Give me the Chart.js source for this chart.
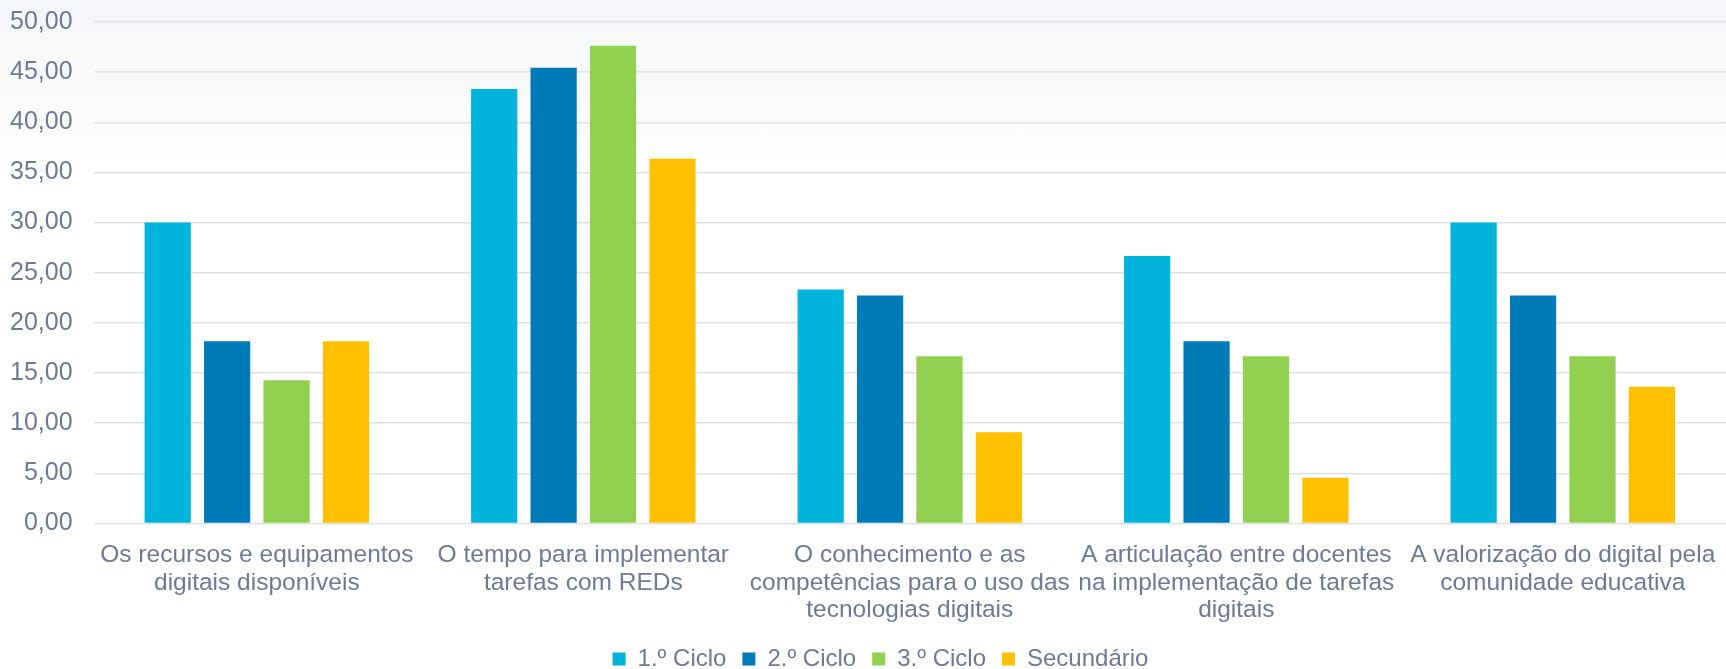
<!DOCTYPE html>
<html>
<head>
<meta charset="utf-8">
<script src="https://cdn.jsdelivr.net/npm/chart.js@4/dist/chart.umd.min.js"></script>
<style>
  html, body { margin: 0; padding: 0; }
  body { width: 1726px; height: 669px; overflow: hidden;
         background: linear-gradient(to bottom, #f5f6f9 0px, #f8f9fa 80px, #ffffff 170px, #ffffff 669px); }
  #wrap { position: relative; width: 1726px; height: 669px; }
</style>
</head>
<body>
<div id="wrap"><canvas id="c" width="1726" height="669"></canvas></div>
<script>
const categories = [
  ["Os recursos e equipamentos", "digitais disponíveis"],
  ["O tempo para implementar", "tarefas com REDs"],
  ["O conhecimento e as", "competências para o uso das", "tecnologias digitais"],
  ["A articulação entre docentes", "na implementação de tarefas", "digitais"],
  ["A valorização do digital pela", "comunidade educativa"]
];
const seriesNames = ["1.º Ciclo", "2.º Ciclo", "3.º Ciclo", "Secundário"];
const ciclo1 = [30.00, 43.33, 23.33, 26.67, 30.00];
const ciclo2 = [18.18, 45.45, 22.73, 18.18, 22.73];
const ciclo3 = [14.29, 47.62, 16.67, 16.67, 16.67];
const secundario = [18.18, 36.36, 9.09, 4.55, 13.64];
const yMin = 0, yMax = 50, yStep = 5;

const colors = ["#00b4dc", "#007bb8", "#92d050", "#ffc000"];
const textColor = "#6f7994";
const FONT = "'Liberation Sans', Arial, Helvetica, sans-serif";

const allSeries = [ciclo1, ciclo2, ciclo3, secundario];

// nudges the centred legend slightly right, as in the reference
const legendShift = {
  id: 'legendShift',
  afterLayout(chart) {
    if (chart.legend) { chart.legend.left += 17.5; chart.legend.right += 17.5; }
  }
};

new Chart(document.getElementById('c'), {
  type: 'bar',
  data: {
    labels: categories,
    datasets: allSeries.map((d, i) => ({
      label: seriesNames[i],
      data: d,
      backgroundColor: colors[i],
      borderWidth: 0,
      categoryPercentage: 0.728,
      barPercentage: 0.778
    }))
  },
  plugins: [legendShift],
  options: {
    responsive: false,
    animation: false,
    devicePixelRatio: 1,
    layout: { padding: { left: 0, right: 0, top: 22, bottom: -12 } },
    plugins: {
      tooltip: { enabled: false },
      legend: {
        position: 'bottom',
        labels: {
          color: textColor,
          font: { family: FONT, size: 24 },
          boxWidth: 13,
          boxHeight: 13,
          padding: 16
        }
      }
    },
    scales: {
      x: {
        grid: { display: false, drawTicks: false },
        border: { display: false },
        ticks: {
          color: textColor,
          font: { family: FONT, size: 24.5, lineHeight: 1.11 },
          padding: 18.5,
          maxRotation: 0,
          autoSkip: false
        },
        afterFit: s => { s.height = 107.5; s.paddingLeft = 0; s.paddingRight = 0; }
      },
      y: {
        min: yMin,
        max: yMax,
        grid: { color: "#dfe1e7", lineWidth: 1.5, drawTicks: false },
        border: { display: false },
        ticks: {
          stepSize: yStep,
          color: textColor,
          font: { family: FONT, size: 25 },
          padding: 21,
          callback: v => v.toFixed(2).replace('.', ',')
        },
        afterFit: s => { s.width = 93.6; s.paddingTop = 0; s.paddingBottom = 0; }
      }
    }
  }
});
</script>
</body>
</html>
